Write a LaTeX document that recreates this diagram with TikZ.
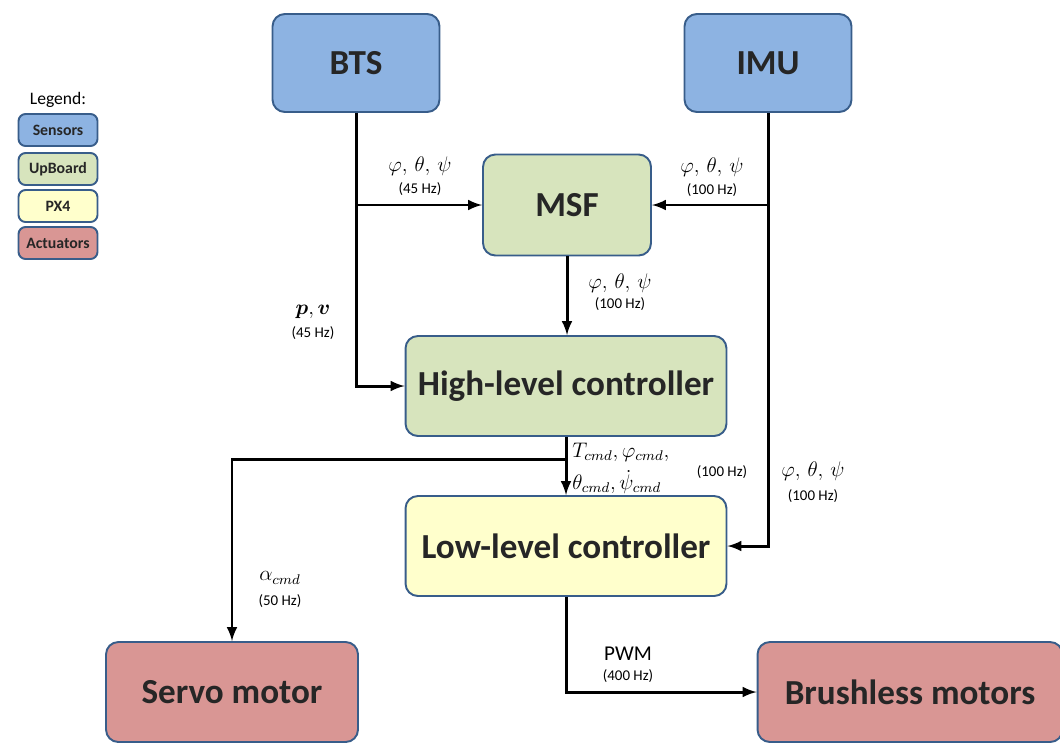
\documentclass[tikz,border=0pt]{standalone}
\usepackage{fontspec}
\setmainfont{Carlito}
\usepackage{amsmath,bm}
\usetikzlibrary{positioning,arrows}

\definecolor{sensorfill}{HTML}{8DB3E2}
\definecolor{upboardfill}{HTML}{D7E4BD}
\definecolor{pxfill}{HTML}{FFFFCC}
\definecolor{actfill}{HTML}{D99694}
\definecolor{boxline}{HTML}{385D8A}
\definecolor{boxtext}{HTML}{262626}

\begin{document}
\begin{tikzpicture}[x=0.02cm,y=-0.02cm]
  \tikzstyle{blk}=[
    draw=boxline, rectangle, rounded corners=7pt,
    line width=1.1pt, text=boxtext,
    font=\fontsize{20}{24}\selectfont\bfseries,
    minimum height=2cm
  ]
  \tikzstyle{sensor}=[blk, fill=sensorfill, minimum width=3.34cm, minimum height=1.96cm]
  \tikzstyle{upb}=[blk, fill=upboardfill]
  \tikzstyle{px}=[blk, fill=pxfill]
  \tikzstyle{act}=[blk, fill=actfill]
  \tikzstyle{leg}=[draw=boxline, rectangle, rounded corners=4pt, line width=1.1pt,
    minimum width=1.58cm, minimum height=0.64cm, text=boxtext,
    font=\fontsize{9}{10}\selectfont\bfseries]
  \tikzstyle{wire}=[line width=1.7pt, ->, >=latex]
  \tikzstyle{rate}=[font=\fontsize{8.5}{10}\selectfont]
  \tikzstyle{sig}=[font=\fontsize{12}{14}\selectfont]

  \useasboundingbox (0,0) rectangle (1060,744);

  % legend
  \node[font=\fontsize{10}{12}\selectfont] (legend) at (58,100) {Legend:};
  \node[leg, fill=sensorfill] (lsens) at (58,130) {Sensors};
  \node[leg, fill=upboardfill] (lupb) at (58,169) {UpBoard};
  \node[leg, fill=pxfill] (lpx) at (58,206) {PX4};
  \node[leg, fill=actfill] (lact) at (58,243) {Actuators};

  % blocks
  \node[sensor] (bts) at (356,63) {BTS};
  \node[sensor] (imu) at (768,63) {IMU};
  \node[upb, minimum width=3.36cm, minimum height=2.02cm] (msf) at (567,205) {MSF};
  \node[upb, minimum width=6.42cm] (hlc) at (566,386) {High-level controller};
  \node[px, minimum width=6.42cm] (llc) at (566,546) {Low-level controller};
  \node[act, minimum width=5.04cm] (servo) at (232,692) {Servo motor};
  \node[act, minimum width=6.1cm] (brushless) at (910,692) {Brushless motors};

  % branch points
  \coordinate (btsmsf) at (bts.south |- msf.west);
  \coordinate (imumsf) at (imu.south |- msf.east);
  \coordinate (hlcsplit) at (566,459);

  % connectors
  \draw[wire] (bts.south) |- (hlc.west);
  \draw[wire] (btsmsf) -- (msf.west);
  \draw[wire] (imu.south) |- (llc.east);
  \draw[wire] (imumsf) -- (msf.east);
  \draw[wire] (msf.south) -- (msf.south |- hlc.north);
  \draw[wire] (hlc.south) -- (hlc.south |- llc.north);
  \draw[wire] (hlcsplit) -| (servo.north);
  \draw[wire] (llc.south) |- (brushless.west);

  % labels
  \node[sig] (btsang) at (420,166) {$\varphi,\,\theta,\,\psi$};
  \node[rate] (btsangr) at (420,189) {(45 Hz)};
  \node[sig] (imuang) at (712,167) {$\varphi,\,\theta,\,\psi$};
  \node[rate] (imuangr) at (712,190) {(100 Hz)};
  \node[sig] (msfang) at (620,283) {$\varphi,\,\theta,\,\psi$};
  \node[rate] (msfangr) at (620,304) {(100 Hz)};
  \node[sig] (pv) at (313,312) {$\bm{p},\bm{v}$};
  \node[rate] (pvr) at (313,333) {(45 Hz)};
  \node[sig, anchor=west, inner sep=0pt] (cmdtop) at (572,452) {$T_{cmd},\varphi_{cmd},$};
  \node[sig, anchor=west, inner sep=0pt] (cmdbot) at (572,482) {$\theta_{cmd},\dot{\psi}_{cmd}$};
  \node[rate] (cmdr) at (722,472) {(100 Hz)};
  \node[sig] (llcang) at (813,471) {$\varphi,\,\theta,\,\psi$};
  \node[rate] (llcangr) at (813,496) {(100 Hz)};
  \node[sig] (alpha) at (280,578) {$\alpha_{cmd}$};
  \node[rate] (alphar) at (280,601) {(50 Hz)};
  \node[sig] (pwm) at (628,654) {$\mathrm{PWM}$};
  \node[rate] (pwmr) at (628,676) {(400 Hz)};
\end{tikzpicture}
\end{document}
